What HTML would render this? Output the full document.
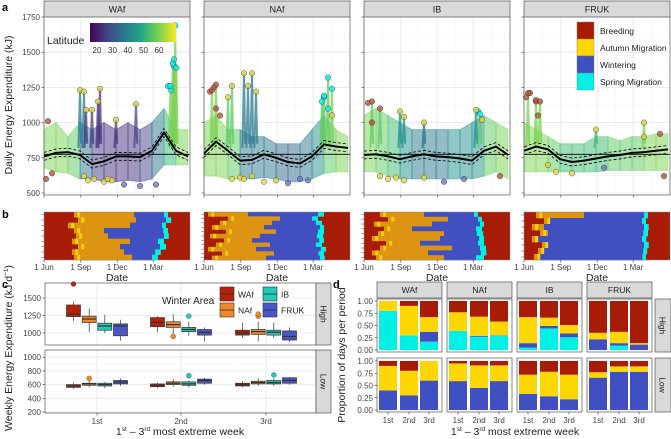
<!DOCTYPE html>
<html><head><meta charset="utf-8">
<style>
body{margin:0;background:#fff;}
svg{display:block;font-family:"Liberation Sans",sans-serif;}
</style></head>
<body>
<svg id="fig" width="671" height="439" viewBox="0 0 671 439" xmlns="http://www.w3.org/2000/svg">
<g id="root"></g>
</svg>
<script>
// ---------- data ----------
const facets = ["WAf","NAf","IB","FRUK"];
const meanDays = [0,30,60,90,120,150,180,210,240,270,300,330,360];
const meanWAf = [760,785,790,770,705,725,760,760,755,800,930,800,760];
const meanNAf = [780,865,800,730,735,775,750,720,710,760,845,830,820];
const meanIB = [770,775,760,740,760,775,760,755,745,730,800,830,770];
const meanFRUK = [800,830,810,740,720,730,745,760,770,785,790,800,810];
const refLine = 775;
const bandLoWAf = [680,650,640,600,600,580,580,590,580,600,700,700,700];
const bandHiWAf = [950,1000,900,1000,950,1000,950,1000,950,1000,1100,950,950];
const bandLoNAf = [620,620,600,600,600,610,600,580,580,600,640,650,650];
const bandHiNAf = [1000,1050,950,950,900,900,850,850,850,950,1050,950,900];
const bandLoIB = [650,650,620,600,600,600,600,600,600,600,620,650,600];
const bandHiIB = [1050,1100,1050,1000,950,950,950,950,950,1000,1050,1000,950];
const bandLoFRUK = [650,650,650,650,650,650,650,660,660,660,660,660,660];
const bandHiFRUK = [1000,950,900,850,850,850,900,900,870,900,900,920,920];
const spikesWAf = [[90,1230],[100,1220],[105,1090],[140,1240],[135,1150],[120,1090],[180,1020],[230,1130],[316,1260],[322,1420],[328,1690],[325,1450],[331,1390]];
const spikesNAf = [[20,1230],[30,1270],[60,1180],[100,1350],[120,1350],[110,1260],[130,1220],[70,1260],[310,1320],[300,1190],[320,1240],[295,1150]];
const spikesIB = [[20,1150],[40,1100],[90,1080],[100,1040],[150,1000],[280,1090],[290,1060]];
const spikesFRUK = [[10,1210],[30,1160],[40,1150],[300,1000],[180,950]];
const ptsWAf = [[10,1010],[5,600],[20,640],[100,620],[110,590],[125,600],[150,580],[160,600],[170,590],[200,560],[240,550],[280,560],[310,1260],[318,1230],[325,1400]];
const ptsNAf = [[15,1220],[25,1250],[30,1100],[40,1050],[70,600],[90,610],[100,600],[120,620],[150,580],[180,590],[210,570],[240,600],[260,590],[300,1180],[310,1100],[320,1050]];
const ptsIB = [[10,1140],[20,1000],[40,620],[60,600],[80,610],[100,590],[150,610],[200,580],[250,600],[285,1080],[295,1020],[340,620]];
const ptsFRUK = [[5,1180],[15,1210],[30,1150],[35,1050],[60,700],[80,650],[120,640],[200,680],[300,900],[340,920],[350,620]];
const bandCols = ["#7ad151","#7ad151","#5ec962","#2a788e","#443a83","#46327e","#46327e","#46327e","#414487","#2a788e","#35b779","#7ad151","#7ad151"];
const phasesWAf = [[75,225,300,310],[85,230,305,318],[60,215,295,305],[75,150,298,310],[80,160,300,312],[70,215,285,300],[85,190,290,305],[70,200,278,292],[75,220,270,285]];
const phasesNAf = [[10,110,285,300],[60,190,270,285],[40,170,280,295],[20,150,290,300],[55,180,285,300],[15,140,282,298],[50,120,288,300],[30,165,280,295],[10,130,292,305],[45,175,286,300],[20,155,290,302]];
const phasesIB = [[40,150,275,285],[60,210,285,295],[25,170,290,300],[50,120,280,295],[35,200,282,298],[20,190,288,300],[55,140,285,300],[40,220,290,305],[20,160,292,306],[30,200,280,300]];
const phasesFRUK = [[30,150,300,310],[50,60,295,305],[20,50,300,312],[40,60,298,310],[20,30,295,306],[45,55,300,312],[35,45,298,308],[25,40,296,305]];
const groups = ["1st","2nd","3rd"];
const boxHighWAf = [[1170,1235,1270,1400,1450],[1010,1090,1150,1220,1240],[930,970,1000,1040,1150]];
const boxHighNAf = [[1010,1150,1200,1240,1350],[990,1080,1120,1160,1270],[880,980,1020,1050,1160]];
const boxHighIB = [[1000,1040,1100,1140,1260],[960,1020,1050,1080,1160],[930,970,1010,1040,1150]];
const boxHighFRUK = [[890,960,1100,1130,1190],[880,970,1010,1050,1080],[870,900,950,1030,1080]];
const boxLowWAf = [[540,560,580,600,630],[550,570,590,610,630],[560,580,600,620,650]];
const boxLowNAf = [[560,590,610,620,680],[570,600,620,640,680],[580,610,630,650,690]];
const boxLowIB = [[550,580,600,620,640],[560,590,610,640,660],[580,610,630,660,690]];
const boxLowFRUK = [[580,610,640,660,690],[600,620,660,680,700],[600,620,660,700,710]];
const outHigh = [[0,0,1700],[1,1,950],[2,1,1240],[1,2,1240],[1,2,1270]];
const outLow = [[1,0,690],[2,1,730],[2,2,740]];
const propHighWAf = [[.8,0,.2,0],[.3,0,.6,.1],[.17,.2,.3,.33]];
const propHighNAf = [[.39,0,.38,.23],[.27,.02,.39,.32],[.29,.01,.28,.42]];
const propHighIB = [[.05,.09,.53,.33],[.44,.05,.17,.34],[.26,.08,.17,.49]];
const propHighFRUK = [[0,.22,.13,.65],[.09,.05,.23,.63],[0,.11,.03,.86]];
const propLowWAf = [[0,.4,.5,.1],[0,.3,.5,.2],[0,.6,.4,0]];
const propLowNAf = [[0,.59,.36,.05],[0,.45,.46,.09],[0,.59,.32,.09]];
const propLowIB = [[0,.33,.39,.28],[0,.28,.5,.22],[0,.22,.5,.28]];
const propLowFRUK = [[0,.66,.11,.23],[0,.78,.11,.11],[0,.78,.11,.11]];

// ---------- helpers ----------
const NS="http://www.w3.org/2000/svg";
const root=document.getElementById('root');
function el(tag,attrs,parent,text){const e=document.createElementNS(NS,tag);for(const k in attrs)e.setAttribute(k,attrs[k]);if(text!==undefined)e.textContent=text;(parent||root).appendChild(e);return e;}
const RED="#a81c07",YEL="#ffd700",BLU="#4050c0",CYA="#00f0e6";
const areaCol={WAf:"#b5220a",NAf:"#f0872a",IB:"#22c9b8",FRUK:"#4a55c8"};

// ---------- panel a ----------
const fx=[44,204,364,524], fw=146;
const aTop=17,aBot=195;
const ay=v=>193-(v-500)/250*35.2;
const means={WAf:meanWAf,NAf:meanNAf,IB:meanIB,FRUK:meanFRUK};
const bandsLo={WAf:bandLoWAf,NAf:bandLoNAf,IB:bandLoIB,FRUK:bandLoFRUK};
const bandsHi={WAf:bandHiWAf,NAf:bandHiNAf,IB:bandHiIB,FRUK:bandHiFRUK};
const spikes={WAf:spikesWAf,NAf:spikesNAf,IB:spikesIB,FRUK:spikesFRUK};
const pts={WAf:ptsWAf,NAf:ptsNAf,IB:ptsIB,FRUK:ptsFRUK};
const phases={WAf:phasesWAf,NAf:phasesNAf,IB:phasesIB,FRUK:phasesFRUK};
const colsFor={WAf:bandCols,
 NAf:["#7ad151","#7ad151","#5ec962","#2a788e","#2a788e","#2a788e","#31688e","#31688e","#2a788e","#21918c","#5ec962","#7ad151","#7ad151"],
 IB:["#7ad151","#5ec962","#3fbc73","#21918c","#2a788e","#2a788e","#2a788e","#21918c","#21918c","#21918c","#5ec962","#7ad151","#7ad151"],
 FRUK:["#7ad151","#7ad151","#5ec962","#3fbc73","#3fbc73","#3fbc73","#3fbc73","#5ec962","#5ec962","#5ec962","#7ad151","#7ad151","#7ad151"]};
function ptCol(name,d,v){if(v>1050&&d>280)return CYA;if(v>1000&&d<60)return "#b5543a";if(v<700&&d>180&&d<300)return "#6a76c8";if(v<700&&d<180&&d>40)return "#e8d840";if(d<40||d>330)return "#b0553c";return "#d8d040";}
facets.forEach((name,i)=>{
 const x0=fx[i];const dx=d=>x0+d/365*fw;
 const g=el('g',{});
 const s=el('rect',{x:x0,y:1,width:fw,height:16,fill:'#d9d9d9',stroke:'#555','stroke-width':.7},g);
 el('text',{x:x0+fw/2,y:12.5,'font-size':9,'text-anchor':'middle',fill:'#222'},g,name);
 el('rect',{x:x0,y:aTop,width:fw,height:aBot-aTop,fill:'#fff'},g);
 [625,875,1125,1375,1625].forEach(v=>el('line',{x1:x0,x2:x0+fw,y1:ay(v),y2:ay(v),stroke:'#f2f2f2','stroke-width':.5},g));
 [500,750,1000,1250,1500,1750].forEach(v=>el('line',{x1:x0,x2:x0+fw,y1:ay(v),y2:ay(v),stroke:'#e6e6e6','stroke-width':.8},g));
 [0,92,183,273].forEach(d=>el('line',{x1:dx(d),x2:dx(d),y1:aTop,y2:aBot,stroke:'#e6e6e6','stroke-width':.8},g));
 [46,137,228,319].forEach(d=>el('line',{x1:dx(d),x2:dx(d),y1:aTop,y2:aBot,stroke:'#f2f2f2','stroke-width':.5},g));
 const lo=bandsLo[name],hi=bandsHi[name],cl=colsFor[name];
 for(let k=0;k<meanDays.length-1;k++){
  const p=`${dx(meanDays[k])},${ay(hi[k])} ${dx(meanDays[k+1])},${ay(hi[k+1])} ${dx(meanDays[k+1])},${ay(lo[k+1])} ${dx(meanDays[k])},${ay(lo[k])}`;
  const b=el('polygon',{points:p,fill:cl[k],'fill-opacity':.5,stroke:cl[k],'stroke-opacity':.4},g);
  
 }
 spikes[name].forEach(([d,v])=>{
  const k=Math.min(12,Math.round(d/30));
  const l=el('polyline',{points:`${dx(d-4)},${ay(820)} ${dx(d)},${ay(v)} ${dx(d+3)},${ay(850)}`,fill:'none',stroke:cl[k],'stroke-width':2,'stroke-opacity':.75},g);
  
 });
 pts[name].concat(spikes[name]).forEach(([d,v])=>{
  const c=el('circle',{cx:dx(d),cy:ay(v),r:2.8,fill:ptCol(name,d,v),'fill-opacity':.8,stroke:'#333','stroke-width':.4},g);
  
 });
 el('line',{x1:x0,x2:x0+fw,y1:ay(refLine),y2:ay(refLine),stroke:'#000','stroke-width':.9},g);
 const m=means[name];
 const mp=m.map((v,k)=>`${dx(meanDays[k])},${ay(v)}`).join(' ');
 const up=m.map((v,k)=>`${dx(meanDays[k])},${ay(v+28)}`).join(' ');
 const dn=m.map((v,k)=>`${dx(meanDays[k])},${ay(v-28)}`).join(' ');
 el('polyline',{points:up,fill:'none',stroke:'#000','stroke-width':.8,'stroke-dasharray':'3,2'},g);
 el('polyline',{points:dn,fill:'none',stroke:'#000','stroke-width':.8,'stroke-dasharray':'3,2'},g);
 const ml=el('polyline',{points:mp,fill:'none',stroke:'#000','stroke-width':2,'stroke-linejoin':'round'},g);
 
 el('rect',{x:x0,y:aTop,width:fw,height:aBot-aTop,fill:'none',stroke:'#555','stroke-width':.7},g);
 [0,92,183,273].forEach(d=>el('line',{x1:dx(d),x2:dx(d),y1:aBot,y2:aBot+2.5,stroke:'#333','stroke-width':.6},g));
 [500,750,1000,1250,1500,1750].forEach(v=>el('line',{x1:x0-2.5,x2:x0,y1:ay(v),y2:ay(v),stroke:'#333','stroke-width':.6},g));
 if(i===0)[500,750,1000,1250,1500,1750].forEach(v=>el('text',{x:x0-4,y:ay(v)+3,'font-size':8,'text-anchor':'end',fill:'#444'},g,v));

 // ---------- panel b ----------
 const bTop=212,bBot=260;
 const gb=el('g',{});
 const rows=phases[name];const rh=(bBot-bTop)/rows.length;
 el('rect',{x:x0,y:bTop,width:fw,height:bBot-bTop,fill:RED},gb);
 rows.forEach((r,j)=>{
  const y=bTop+j*rh;
  const segs=[[r[0],r[1],'#dd9410'],[r[1],r[2],BLU],[r[2],r[3],CYA]];
  segs.forEach(([a,b,c])=>{if(b>a){const q=el('rect',{x:dx(a),y:y,width:dx(b)-dx(a),height:rh+.3,fill:c},gb);}});
  el('rect',{x:dx(r[0]+8),y:y,width:3,height:rh+.3,fill:'#f4d010'},gb);
  el('line',{x1:x0-3,x2:x0,y1:y+rh/2,y2:y+rh/2,stroke:'#555','stroke-width':.5},gb);
 });
 el('rect',{x:x0,y:bTop,width:fw,height:bBot-bTop,fill:'none',stroke:'#888','stroke-width':.5},gb);
 [[0,'1 Jun'],[92,'1 Sep'],[183,'1 Dec'],[273,'1 Mar']].forEach(([d,t])=>{
  el('line',{x1:dx(d),x2:dx(d),y1:bBot,y2:bBot+2.5,stroke:'#333','stroke-width':.6},gb);
  el('text',{x:dx(d),y:bBot+10,'font-size':8,'text-anchor':'middle',fill:'#444'},gb,t);
 });
 const dt=el('text',{x:x0+fw/2,y:bBot+21,'font-size':10.5,'text-anchor':'middle',fill:'#222'},gb,'Date');
 
});
el('text',{x:2,y:11,'font-size':11,'font-weight':'bold'},root,'a');
el('text',{x:2,y:218,'font-size':11,'font-weight':'bold'},root,'b');
el('text',{x:2,y:288,'font-size':11,'font-weight':'bold'},root,'c');
el('text',{x:333,y:288,'font-size':11,'font-weight':'bold'},root,'d');
const yta=el('text',{x:0,y:0,'font-size':10.5,'text-anchor':'middle',fill:'#222',transform:'translate(12,105) rotate(-90)'},root,'Daily Energy Expenditure (kJ)');

(function(){
 const g=el('g',{});
 const defs=el('defs',{},g);const lg=el('linearGradient',{id:'vir',x1:0,x2:1,y1:0,y2:0},defs);
 ["#440154","#414487","#2a788e","#22a884","#7ad151","#fde725"].forEach((c,k)=>el('stop',{offset:k/5,'stop-color':c},lg));
 el('rect',{x:90,y:23,width:86,height:19,fill:'url(#vir)'},g);
 el('text',{x:47,y:44,'font-size':10.5,fill:'#222'},g,'Latitude');
 [20,30,40,50,60].forEach((v,k)=>el('text',{x:97+k*14.5+(v-20)*0.1,y:53,'font-size':8,'text-anchor':'middle',fill:'#333'},g,v));
})();
(function(){
 const g=el('g',{});
 [["Breeding",RED],["Autumn Migration",YEL],["Wintering",BLU],["Spring Migration",CYA]].forEach(([t,c],k)=>{
  const r=el('rect',{x:577,y:22+k*17,width:17,height:17,fill:c,stroke:'#777','stroke-width':.4},g);
  
  el('text',{x:600,y:34+k*17,'font-size':8.5,fill:'#222'},g,t);
 });
})();

// ---------- panel c ----------
(function(){
 const L=45,R=316;
 const hT=283,hB=345,lT=350,lB=413;
 const yh=v=>333-(v-1000)/250*17.5;
 const yl=v=>412-(v-200)/100*6.85;
 const gx=[97,181,266];const off=[-23.5,-7.8,7.8,23.5];
 const highs=[boxHighWAf,boxHighNAf,boxHighIB,boxHighFRUK];
 const lows=[boxLowWAf,boxLowNAf,boxLowIB,boxLowFRUK];
 const g=el('g',{});
 function panel(T,B,yf,ticks,minor,data,outs,lab){
  el('rect',{x:L,y:T,width:R-L,height:B-T,fill:'#fff'},g);
  minor.forEach(v=>el('line',{x1:L,x2:R,y1:yf(v),y2:yf(v),stroke:'#f2f2f2','stroke-width':.5},g));
  ticks.forEach(v=>{el('line',{x1:L,x2:R,y1:yf(v),y2:yf(v),stroke:'#e6e6e6','stroke-width':.8},g);
   el('line',{x1:L-2.5,x2:L,y1:yf(v),y2:yf(v),stroke:'#333','stroke-width':.6},g);
   el('text',{x:L-4,y:yf(v)+3,'font-size':8,'text-anchor':'end',fill:'#444'},g,v);});
  gx.forEach(x=>el('line',{x1:x,x2:x,y1:T,y2:B,stroke:'#e6e6e6','stroke-width':.8},g));
  data.forEach((arr,a)=>arr.forEach((b,gi)=>{
   const cx=gx[gi]+off[a];const c=areaCol[facets[a]];
   el('line',{x1:cx,x2:cx,y1:yf(b[0]),y2:yf(b[4]),stroke:'#333','stroke-width':.7},g);
   const r=el('rect',{x:cx-7,y:yf(b[3]),width:14,height:Math.max(1,yf(b[1])-yf(b[3])),fill:c,stroke:'#333','stroke-width':.7},g);
   
   el('line',{x1:cx-7,x2:cx+7,y1:yf(b[2]),y2:yf(b[2]),stroke:'#333','stroke-width':1.2},g);
  }));
  outs.forEach(([a,gi,v])=>{const o=el('circle',{cx:gx[gi]+off[a],cy:yf(v),r:2.5,fill:areaCol[facets[a]],stroke:'#333','stroke-width':.3},g);});
  el('rect',{x:L,y:T,width:R-L,height:B-T,fill:'none',stroke:'#555','stroke-width':.7},g);
  el('rect',{x:R,y:T,width:15,height:B-T,fill:'#d9d9d9',stroke:'#555','stroke-width':.7},g);
  el('text',{x:0,y:0,'font-size':8.5,'text-anchor':'middle',fill:'#222',transform:`translate(${R+4.5},${(T+B)/2}) rotate(90)`},g,lab==='high'?'High':'Low');
 }
 panel(hT,hB,yh,[1000,1250,1500],[1125,1375,1625],highs,outHigh,'high');
 panel(lT,lB,yl,[200,400,600,800,1000],[300,500,700,900],lows,outLow,'low');
 groups.forEach((t,k)=>{el('line',{x1:gx[k],x2:gx[k],y1:lB,y2:lB+2.5,stroke:'#333','stroke-width':.6},g);el('text',{x:gx[k],y:lB+11,'font-size':8,'text-anchor':'middle',fill:'#444'},g,t);});
 const xt=el('text',{x:180,y:435,'font-size':10.5,'text-anchor':'middle',fill:'#222'},g);
 xt.innerHTML='1<tspan font-size="6.5" dy="-4">st</tspan><tspan dy="4"> – 3</tspan><tspan font-size="6.5" dy="-4">rd</tspan><tspan dy="4"> most extreme week</tspan>';
 
 const yt=el('text',{x:0,y:0,'font-size':10.5,'text-anchor':'middle',fill:'#222',transform:'translate(12,348) rotate(-90)'},g);
 yt.innerHTML='Weekly Energy Expenditure (kJ d<tspan font-size="6.5" dy="-4">−1</tspan><tspan dy="4">)</tspan>';
 
 el('text',{x:162,y:304,'font-size':10,fill:'#222'},g,'Winter Area');
 [['WAf',220,287],['NAf',220,303],['IB',263,287],['FRUK',263,303]].forEach(([n,x,y])=>{
  const k=el('rect',{x:x,y:y,width:14,height:14,fill:areaCol[n],stroke:'#333','stroke-width':.6},g);
  
  el('line',{x1:x,x2:x+14,y1:y+7,y2:y+7,stroke:'#333','stroke-width':.8},g);
  el('text',{x:x+18,y:y+10.5,'font-size':8.5,fill:'#222'},g,n);
 });
})();

// ---------- panel d ----------
(function(){
 const dfx=[377,447,517,587],dfw=65;
 const hT=299,hB=352,lT=358,lB=412;
 const yhd=v=>350-v*49,yld=v=>410-v*49;
 const highs=[propHighWAf,propHighNAf,propHighIB,propHighFRUK];
 const lows=[propLowWAf,propLowNAf,propLowIB,propLowFRUK];
 const cols=[CYA,BLU,YEL,RED];
 const bo=[11,32,52];
 const g=el('g',{});
 facets.forEach((n,i)=>{
  const x0=dfx[i];
  el('rect',{x:x0,y:282,width:dfw,height:16,fill:'#d9d9d9',stroke:'#555','stroke-width':.7},g);
  el('text',{x:x0+dfw/2,y:293,'font-size':8.5,'text-anchor':'middle',fill:'#222'},g,n);
  [[hT,hB,yhd,highs[i],'high'],[lT,lB,yld,lows[i],'low']].forEach(([T,B,yf,arr,lab])=>{
   el('rect',{x:x0,y:T,width:dfw,height:B-T,fill:'#fff'},g);
   [0,.25,.5,.75,1].forEach(v=>el('line',{x1:x0,x2:x0+dfw,y1:yf(v),y2:yf(v),stroke:'#e6e6e6','stroke-width':.8},g));
   arr.forEach((p,k)=>{
    let acc=0;p.forEach((v,s)=>{if(v>0){const r=el('rect',{x:x0+bo[k]-9,y:yf(acc+v),width:18,height:yf(acc)-yf(acc+v),fill:cols[s]},g);
     }acc+=v;});
   });
   el('rect',{x:x0,y:T,width:dfw,height:B-T,fill:'none',stroke:'#555','stroke-width':.7},g);
   if(i===0)[0,.25,.5,.75,1].forEach(v=>{el('text',{x:x0-4,y:yf(v)+3,'font-size':8,'text-anchor':'end',fill:'#444'},g,v.toFixed(2));
     el('line',{x1:x0-2.5,x2:x0,y1:yf(v),y2:yf(v),stroke:'#333','stroke-width':.6},g);});
  });
  groups.forEach((t,k)=>{el('line',{x1:x0+bo[k],x2:x0+bo[k],y1:lB,y2:lB+2.5,stroke:'#333','stroke-width':.6},g);el('text',{x:x0+bo[k],y:lB+11,'font-size':8,'text-anchor':'middle',fill:'#444'},g,t);});
 });
 [[hT,hB,'High'],[lT,lB,'Low']].forEach(([T,B,t])=>{
  el('rect',{x:655,y:T,width:16,height:B-T,fill:'#d9d9d9',stroke:'#555','stroke-width':.7},g);
  el('text',{x:0,y:0,'font-size':8.5,'text-anchor':'middle',fill:'#222',transform:`translate(${659.5},${(T+B)/2}) rotate(90)`},g,t);
 });
 const xt=el('text',{x:515,y:435,'font-size':10.5,'text-anchor':'middle',fill:'#222'},g);
 xt.innerHTML='1<tspan font-size="6.5" dy="-4">st</tspan><tspan dy="4"> – 3</tspan><tspan font-size="6.5" dy="-4">rd</tspan><tspan dy="4"> most extreme week</tspan>';
 
 const yt=el('text',{x:0,y:0,'font-size':10.5,'text-anchor':'middle',fill:'#222',transform:'translate(345,355) rotate(-90)'},g,'Proportion of days per period');
 
})();
</script>
</body></html>
